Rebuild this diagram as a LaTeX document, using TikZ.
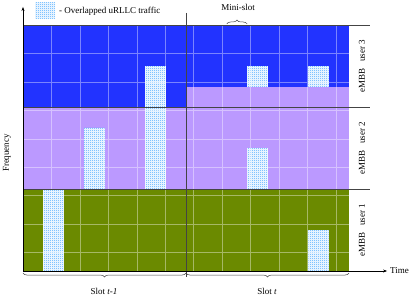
\documentclass[tikz,border=0pt]{standalone}
\usepackage{fontspec}
\setmainfont{Liberation Serif}
\usetikzlibrary{patterns,decorations.pathreplacing,arrows.meta}
\definecolor{embbblue}{HTML}{2233FF}
\definecolor{lav}{HTML}{BB99FF}
\definecolor{olivegreen}{HTML}{6B8A00}
\definecolor{urllc}{HTML}{3CA4FF}
\definecolor{sepgray}{HTML}{444444}
\pgfdeclarepatternformonly{finechecker}{\pgfpointorigin}{\pgfqpoint{2pt}{2pt}}{\pgfqpoint{2pt}{2pt}}{%
  \pgfpathrectangle{\pgfpointorigin}{\pgfqpoint{1pt}{1pt}}%
  \pgfpathrectangle{\pgfqpoint{1pt}{1pt}}{\pgfqpoint{1pt}{1pt}}%
  \pgfusepath{fill}}
\tikzset{
  urllccell/.style={fill=white, postaction={pattern=finechecker, pattern color=urllc}},
  gridline/.style={white, opacity=0.4, line width=0.5pt},
  sepline/.style={sepgray, line width=0.7pt},
  axisline/.style={black, line width=0.7pt, -{Stealth[length=4pt,width=3pt]}},
  bracedeco/.style={sepgray, line width=0.5pt, decorate, decoration={brace, amplitude=4pt}},
  lbl/.style={inner sep=1pt},
}
\begin{document}
\begin{tikzpicture}[x=1pt,y=-1pt, font=\fontsize{9}{10.5}\selectfont]
\useasboundingbox (0,0) rectangle (415,298);
\begin{scope}[shift={(23pt,-25pt)}, x=20.375pt, y=-20.5pt]
  % eMBB allocations
  \fill[embbblue] (0,0) rectangle (8,4);
  \fill[embbblue] (8,0) rectangle (16,3);
  \fill[lav] (0,4) rectangle (8,8);
  \fill[lav] (8,3) rectangle (16,8);
  \fill[olivegreen] (0,8) rectangle (16,12);
  % overlapped uRLLC traffic
  \path[urllccell] (6,2) rectangle (7,8);
  \path[urllccell] (3,5) rectangle (4,8);
  \path[urllccell] (1,8) rectangle (2,12);
  \path[urllccell] (11,2) rectangle (12,3);
  \path[urllccell] (14,2) rectangle (15,3);
  \path[urllccell] (11,6) rectangle (12,8);
  \path[urllccell] (14,10) rectangle (15,12);
  % mini-slot grid
  \draw[gridline] (0,0) grid (16,12);
  % user separators
  \draw[sepline] (0,0) -- (17.03,0);
  \draw[sepline] (0,4) -- (17.03,4);
  \draw[sepline] (0,8) -- (17.03,8);
  \draw[sepline] (8,-0.59) -- (8,12.3);
  % axes
  \coordinate (origin) at (0,12);
  \coordinate (fend) at (0,-0.88);
  \coordinate (tend) at (17.87,12);
  \draw[axisline] (origin) -- (fend);
  \draw[axisline] (origin) -- (tend);
  % braces
  \coordinate (b0) at (0,12.1);
  \coordinate (b1) at (8,12.1);
  \coordinate (b2) at (16,12.1);
  \draw[bracedeco] (b1) -- (b0);
  \draw[bracedeco] (b2) -- (b1);
  \coordinate (m0) at (10,-0.05);
  \coordinate (m1) at (11,-0.05);
  \draw[bracedeco] (m0) -- (m1);
\end{scope}
% legend
\path[urllccell] (35,2) rectangle (55,18);
\node[lbl, anchor=west] (legend) at (58,11) {- Overlapped uRLLC traffic};
\node[lbl] (minislot) at (238,7.5) {Mini-slot};
\node[lbl, anchor=west] (time) at (389,271) {Time};
\node[lbl] (slotA) at (104,291) {Slot \textit{t-1}};
\node[lbl] (slotB) at (267,291) {Slot \textit{t}};
\node[lbl, rotate=90] (freq) at (7,153) {Frequency};
\node[lbl, rotate=90] (u3) at (362,66) {eMBB\hspace{4pt} user 3};
\node[lbl, rotate=90] (u2) at (362,148) {eMBB\hspace{4pt} user 2};
\node[lbl, rotate=90] (u1) at (362,230) {eMBB\hspace{4pt} user 1};
\end{tikzpicture}
\end{document}
